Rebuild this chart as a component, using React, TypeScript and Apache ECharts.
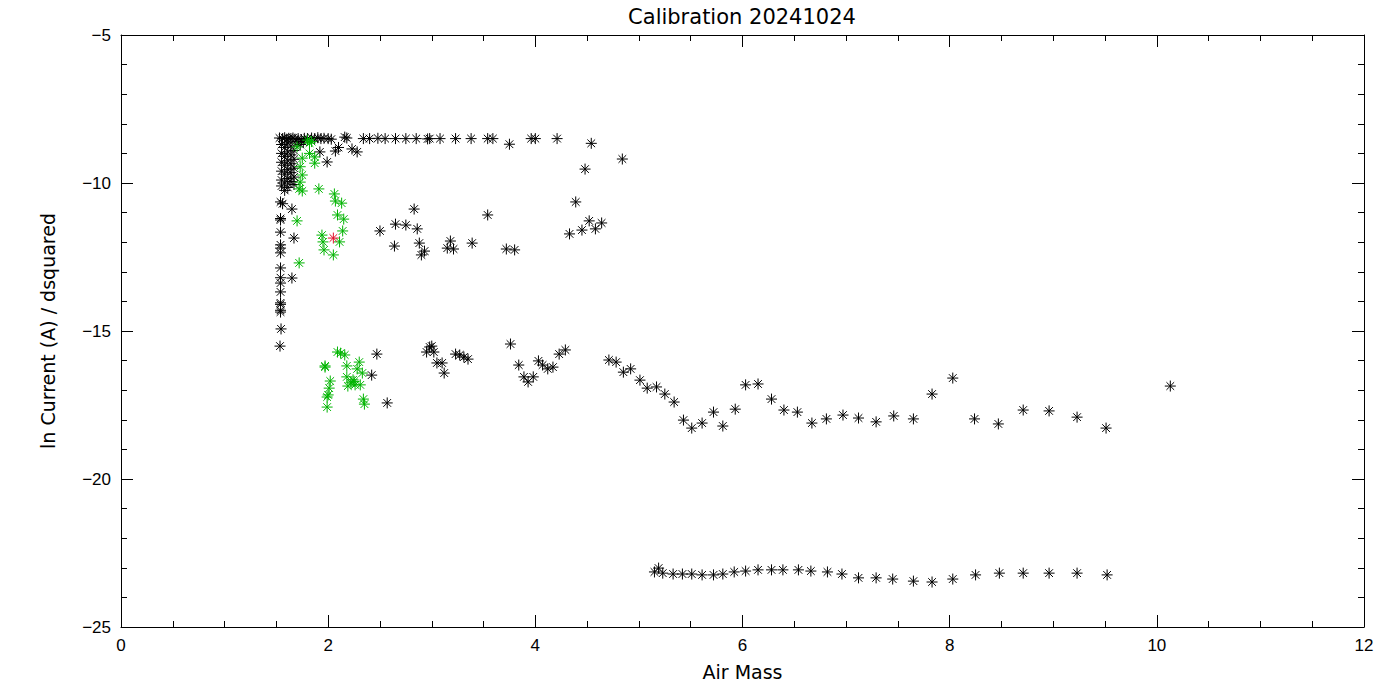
import React, { useEffect, useRef } from "react";
import * as echarts from "echarts";

const chartTitle = "Calibration 20241024";
const xName = "Air Mass";
const yName = "ln Current (A) / dsquared";
const xRange = [0, 12];
const yRange = [-25, -5];

const blackPoints: [number, number][] = [
  // top row
  [1.53, -8.48], [1.56, -8.5], [1.58, -8.47], [1.6, -8.52], [1.62, -8.49], [1.64, -8.5], [1.66, -8.48],
  [1.68, -8.52], [1.71, -8.5], [1.74, -8.53], [1.77, -8.49], [1.8, -8.5], [1.84, -8.48], [1.87, -8.5],
  [1.9, -8.47], [1.93, -8.5], [1.96, -8.49], [2.0, -8.5], [2.03, -8.52], [2.16, -8.45], [2.18, -8.48],
  [2.34, -8.5], [2.4, -8.5], [2.48, -8.49], [2.55, -8.5], [2.65, -8.5], [2.75, -8.5], [2.85, -8.5],
  [2.96, -8.51], [2.98, -8.5], [3.08, -8.5], [3.23, -8.5], [3.38, -8.5], [3.54, -8.5], [3.59, -8.5],
  [3.96, -8.5], [4.0, -8.5], [4.21, -8.5], [3.75, -8.69], [4.54, -8.66],
  [2.07, -8.92], [2.1, -8.8], [2.23, -8.85], [2.28, -8.95], [1.92, -8.95], [1.99, -9.29],
  // dense column cluster
  [1.55, -8.7], [1.55, -9.0], [1.55, -9.3], [1.55, -9.6], [1.55, -9.9], [1.55, -10.1],
  [1.58, -8.8], [1.58, -9.1], [1.58, -9.4], [1.58, -9.7], [1.58, -10.0], [1.58, -10.25],
  [1.61, -8.65], [1.61, -8.95], [1.61, -9.25], [1.61, -9.55], [1.61, -9.85], [1.61, -10.15],
  [1.64, -8.75], [1.64, -9.05], [1.64, -9.35], [1.64, -9.65], [1.64, -9.95],
  [1.67, -8.9], [1.67, -9.2], [1.67, -9.5], [1.67, -9.8], [1.67, -10.05],
  [1.7, -8.6], [1.73, -8.7], [1.76, -8.62],
  // left column below
  [1.54, -10.64], [1.56, -10.7], [1.54, -11.2], [1.54, -11.25], [1.54, -11.66], [1.54, -12.09],
  [1.54, -12.2], [1.54, -12.36], [1.54, -12.87], [1.54, -13.2], [1.54, -13.38], [1.54, -13.68],
  [1.54, -14.05], [1.54, -14.1], [1.54, -14.3], [1.54, -14.36], [1.545, -14.93], [1.535, -15.51],
  [1.65, -10.88], [1.67, -11.86], [1.65, -13.21],
  // middle band
  [2.5, -11.62], [2.64, -12.13], [2.65, -11.39], [2.75, -11.42], [2.83, -10.88], [2.86, -11.55],
  [2.88, -12.03], [2.9, -12.43], [2.93, -12.3], [3.15, -12.2], [3.18, -11.96], [3.21, -12.23],
  [3.39, -12.03], [3.54, -11.08], [3.72, -12.23], [3.8, -12.26], [4.33, -11.72], [4.39, -10.64],
  [4.45, -11.59], [4.52, -11.28], [4.58, -11.55], [4.64, -11.35], [4.48, -9.53], [4.84, -9.19],
  // lower band
  [2.47, -15.78], [2.42, -16.49], [2.57, -17.43], [2.95, -15.71], [2.98, -15.54], [3.0, -15.51],
  [3.02, -15.71], [3.05, -16.08], [3.1, -16.08], [3.12, -16.42], [3.23, -15.78], [3.27, -15.81],
  [3.31, -15.88], [3.35, -15.95], [3.76, -15.44], [3.84, -16.15], [3.89, -16.55], [3.93, -16.72],
  [3.98, -16.55], [4.03, -16.01], [4.07, -16.15], [4.12, -16.28], [4.17, -16.22], [4.23, -15.78],
  [4.29, -15.64], [4.71, -15.98], [4.78, -16.05], [4.85, -16.39], [4.92, -16.28], [5.01, -16.66],
  [5.08, -16.93], [5.17, -16.89], [5.25, -17.13], [5.34, -17.4], [5.43, -18.01], [5.51, -18.28],
  [5.61, -18.11], [5.72, -17.74], [5.81, -18.21], [5.93, -17.64], [6.03, -16.82], [6.15, -16.79],
  [6.28, -17.3], [6.4, -17.67], [6.53, -17.74], [6.67, -18.11], [6.81, -17.97], [6.97, -17.84],
  [7.12, -17.94], [7.29, -18.07], [7.46, -17.87], [7.65, -17.97], [7.83, -17.13], [8.03, -16.59],
  [8.24, -17.97], [8.47, -18.14], [8.71, -17.67], [8.96, -17.7], [9.23, -17.91], [9.51, -18.28],
  [10.13, -16.86],
  // bottom band
  [5.15, -23.14], [5.19, -23.01], [5.23, -23.18], [5.33, -23.21], [5.42, -23.21], [5.51, -23.21],
  [5.61, -23.24], [5.72, -23.24], [5.81, -23.21], [5.92, -23.14], [6.03, -23.11], [6.15, -23.07],
  [6.28, -23.07], [6.39, -23.07], [6.54, -23.07], [6.66, -23.11], [6.82, -23.14], [6.96, -23.21],
  [7.12, -23.34], [7.29, -23.34], [7.45, -23.38], [7.65, -23.45], [7.83, -23.48], [8.03, -23.38],
  [8.25, -23.24], [8.48, -23.18], [8.71, -23.18], [8.96, -23.18], [9.23, -23.18], [9.52, -23.24],
];

const greenPoints: [number, number][] = [
  [1.82, -8.65], [1.8, -8.55], [1.84, -8.6], [1.7, -8.78], [1.75, -9.16], [1.82, -9.0], [1.87, -9.12],
  [1.87, -9.33], [1.73, -9.45], [1.75, -9.73], [1.73, -9.97], [1.72, -10.2], [1.75, -10.27],
  [1.91, -10.2], [2.06, -10.37], [2.07, -10.61], [2.13, -10.68], [2.09, -11.08], [2.15, -11.22],
  [1.7, -11.28], [2.14, -11.62], [1.94, -11.76], [2.11, -11.99], [1.95, -11.99], [1.96, -12.26],
  [2.05, -12.43], [1.72, -12.7],
  [2.09, -15.71], [2.16, -15.81], [2.12, -15.75], [1.97, -16.18], [2.18, -16.18], [2.3, -16.05],
  [2.28, -16.28], [2.33, -16.42], [2.18, -16.55], [2.24, -16.65], [2.02, -16.69], [2.19, -16.86],
  [2.26, -16.82], [2.31, -16.82], [2.01, -16.93], [2.0, -17.16], [1.99, -17.23], [2.34, -17.3],
  [2.35, -17.47], [1.99, -17.57], [2.22, -16.75], [2.25, -16.7], [1.97, -16.22],
];

const redPoints: [number, number][] = [[2.05, -11.86]];

const ASTERISK = "path://M0,5L10,5M5,0L5,10M1.5,1.5L8.5,8.5M8.5,1.5L1.5,8.5";
const FONT = "Liberation Sans";
const NAME_FONT = "DejaVu Sans";

function starSeries(name: string, data: [number, number][], color: string) {
  return {
    name,
    type: "scatter",
    data,
    symbol: ASTERISK,
    symbolSize: 11,
    itemStyle: { color: "transparent", borderColor: color, borderWidth: 1, opacity: 1 },
    emphasis: { disabled: true },
  };
}

export default function App() {
  const ref = useRef<HTMLDivElement>(null);
  useEffect(() => {
    if (!ref.current) return;
    const chart = echarts.init(ref.current, undefined, { renderer: "svg" });
    const axisCommon = {
      axisLine: { show: true, onZero: false, lineStyle: { color: "#000", width: 1 } },
      axisTick: { show: true, inside: true, length: 12, lineStyle: { color: "#000" } },
      minorTick: { show: true, length: 6, lineStyle: { color: "#000" } },
      splitLine: { show: false },
    };
    const fmt = (v: number) => String(v).replace("-", "\u2212");
    chart.setOption({
      animation: false,
      backgroundColor: "#fff",
      grid: { left: 121, right: 36, top: 35, bottom: 73, containLabel: false },
      graphic: [
        {
          type: "text",
          x: 742,
          y: 6,
          style: { text: chartTitle, fontSize: 21, fontFamily: NAME_FONT, fill: "#000", textAlign: "center" },
        },
      ],
      xAxis: [
        {
          type: "value",
          min: xRange[0],
          max: xRange[1],
          interval: 2,
          position: "bottom",
          ...axisCommon,
          minorTick: { ...axisCommon.minorTick, splitNumber: 4 },
          axisLabel: { color: "#000", fontSize: 17, fontFamily: FONT, margin: 10 },
          name: xName,
          nameLocation: "middle",
          nameGap: 35,
          nameTextStyle: { color: "#000", fontSize: 19, fontFamily: NAME_FONT },
        },
        {
          type: "value",
          min: xRange[0],
          max: xRange[1],
          interval: 2,
          position: "top",
          ...axisCommon,
          minorTick: { ...axisCommon.minorTick, splitNumber: 4 },
          axisLabel: { show: false },
        },
      ],
      yAxis: [
        {
          type: "value",
          min: yRange[0],
          max: yRange[1],
          interval: 5,
          position: "left",
          ...axisCommon,
          minorTick: { ...axisCommon.minorTick, splitNumber: 5 },
          axisLabel: { color: "#000", fontSize: 17, fontFamily: FONT, margin: 10, formatter: fmt },
          name: yName,
          nameLocation: "middle",
          nameGap: 64,
          nameTextStyle: { color: "#000", fontSize: 19, fontFamily: NAME_FONT },
        },
        {
          type: "value",
          min: yRange[0],
          max: yRange[1],
          interval: 5,
          position: "right",
          ...axisCommon,
          minorTick: { ...axisCommon.minorTick, splitNumber: 5 },
          axisLabel: { show: false },
        },
      ],
      series: [
        starSeries("black", blackPoints, "#000"),
        starSeries("green", greenPoints, "#00b400"),
        starSeries("red", redPoints, "#e0102a"),
      ],
    });
    return () => chart.dispose();
  }, []);
  return (
    <div
      ref={ref}
      style={{ position: "fixed", left: 0, top: 0, width: 1400, height: 700, background: "#fff" }}
    />
  );
}
